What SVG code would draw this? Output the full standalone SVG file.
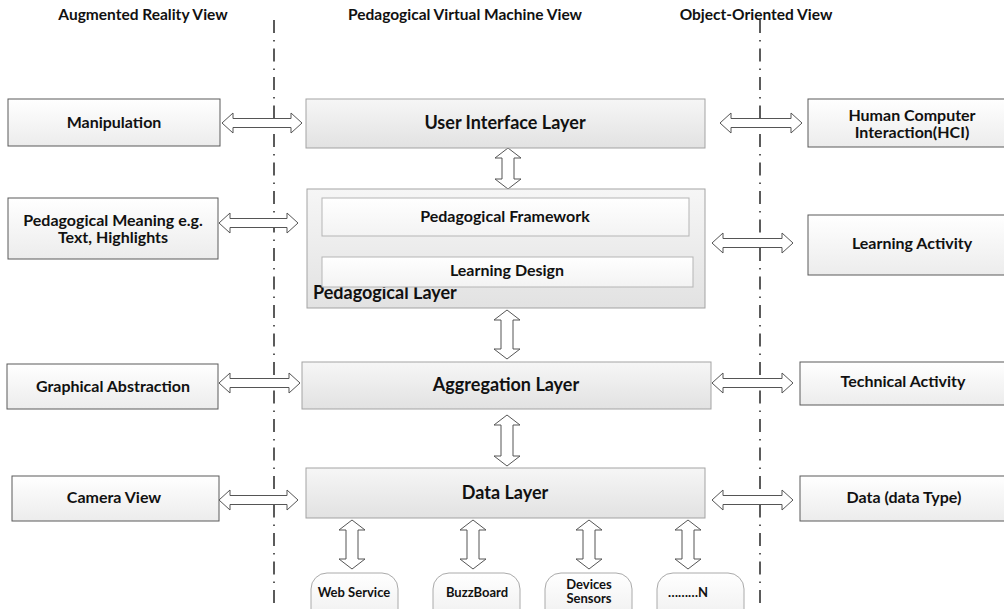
<svg xmlns="http://www.w3.org/2000/svg" width="1004" height="609" viewBox="0 0 1004 609">
<defs>
<linearGradient id="gLayer" x1="0" y1="0" x2="0" y2="1"><stop offset="0" stop-color="#f6f6f6"/><stop offset="1" stop-color="#e2e2e2"/></linearGradient>
<linearGradient id="gSide" x1="0" y1="0" x2="0" y2="1"><stop offset="0" stop-color="#ffffff"/><stop offset="1" stop-color="#ececec"/></linearGradient>
<linearGradient id="gInner" x1="0" y1="0" x2="0" y2="1"><stop offset="0" stop-color="#ffffff"/><stop offset="1" stop-color="#f3f3f3"/></linearGradient>
<style>
.t{font-family:Lato,"Open Sans","Liberation Sans",sans-serif;font-weight:bold;fill:#111;text-anchor:middle}
.h{font-size:15.5px}
.s{font-size:16px}
.l{font-size:18px}
.r{font-size:13px}
.layer{fill:url(#gLayer);stroke:#a3a3a3;stroke-width:1}
.side{fill:url(#gSide);stroke:#5a5a5a;stroke-width:1}
.inner{fill:url(#gInner);stroke:#b5b5b5;stroke-width:1}
.round{fill:url(#gSide);stroke:#aaaaaa;stroke-width:1}
.arr{fill:#ffffff;stroke:#555555;stroke-width:1}
.axis{stroke:#333333;stroke-width:1.6;stroke-dasharray:13 7 1.5 7;fill:none}
</style>
</defs>
<rect width="1004" height="609" fill="#ffffff"/>

<g id="headers">
<text class="t h" x="143" y="20">Augmented Reality View</text>
<text class="t h" x="465" y="20">Pedagogical Virtual Machine View</text>
<text class="t h" x="756" y="20">Object-Oriented View</text>
</g>

<g id="axes">
<line class="axis" x1="274" y1="20" x2="274" y2="609"/>
<line class="axis" x1="760" y1="20" x2="760" y2="609"/>
</g>

<g id="connectors">
<path class="arr" d="M222,123 L233,113 L233,118.5 L291,118.5 L291,113 L302,123 L291,133 L291,127.5 L233,127.5 L233,133 Z"/>
<path class="arr" d="M219,223 L230,213 L230,218.5 L287,218.5 L287,213 L298,223 L287,233 L287,227.5 L230,227.5 L230,233 Z"/>
<path class="arr" d="M219,383 L230,373 L230,378.5 L289,378.5 L289,373 L300,383 L289,393 L289,387.5 L230,387.5 L230,393 Z"/>
<path class="arr" d="M219,500 L230,490 L230,495.5 L287,495.5 L287,490 L298,500 L287,510 L287,504.5 L230,504.5 L230,510 Z"/>
<path class="arr" d="M720,123 L731,113 L731,118.5 L791,118.5 L791,113 L802,123 L791,133 L791,127.5 L731,127.5 L731,133 Z"/>
<path class="arr" d="M712,243 L723,233 L723,238.5 L782,238.5 L782,233 L793,243 L782,253 L782,247.5 L723,247.5 L723,253 Z"/>
<path class="arr" d="M712,383 L723,373 L723,378.5 L782,378.5 L782,373 L793,383 L782,393 L782,387.5 L723,387.5 L723,393 Z"/>
<path class="arr" d="M712,500 L723,490 L723,495.5 L782,495.5 L782,490 L793,500 L782,510 L782,504.5 L723,504.5 L723,510 Z"/>
<path class="arr" d="M508,148 L521,158 L514,158 L514,179 L521,179 L508,189 L495,179 L502,179 L502,158 L495,158 Z"/>
<path class="arr" d="M509,234 L521,241 L515,241 L515,246 L521,246 L509,253 L497,246 L503,246 L503,241 L497,241 Z"/>
<path class="arr" d="M507,310 L520,320 L513,320 L513,349 L520,349 L507,359 L494,349 L501,349 L501,320 L494,320 Z"/>
<path class="arr" d="M507,415 L520,425 L513,425 L513,456 L520,456 L507,466 L494,456 L501,456 L501,425 L494,425 Z"/>
<path class="arr" d="M352,520 L365,530 L358,530 L358,559 L365,559 L352,569 L339,559 L346,559 L346,530 L339,530 Z"/>
<path class="arr" d="M473,520 L486,530 L479,530 L479,559 L486,559 L473,569 L460,559 L467,559 L467,530 L460,530 Z"/>
<path class="arr" d="M589,520 L602,530 L595,530 L595,559 L602,559 L589,569 L576,559 L583,559 L583,530 L576,530 Z"/>
<path class="arr" d="M688,520 L701,530 L694,530 L694,559 L701,559 L688,569 L675,559 L682,559 L682,530 L675,530 Z"/>
</g>

<g id="node-manipulation">
<rect class="side" x="8" y="99" width="212" height="47"/>
<text class="t s" x="114" y="128">Manipulation</text>
</g>
<g id="node-pedagogical-meaning">
<rect class="side" x="8" y="198" width="210" height="61"/>
<text class="t s" x="113" y="226">Pedagogical Meaning e.g.</text>
<text class="t s" x="113" y="243">Text, Highlights</text>
</g>
<g id="node-graphical-abstraction">
<rect class="side" x="7" y="364" width="211" height="45"/>
<text class="t s" x="113" y="392">Graphical Abstraction</text>
</g>
<g id="node-camera-view">
<rect class="side" x="12" y="476" width="207" height="45"/>
<text class="t s" x="114" y="503">Camera View</text>
</g>

<g id="node-user-interface-layer">
<rect class="layer" x="306" y="99" width="399" height="49"/>
<text class="t l" x="505" y="129">User Interface Layer</text>
</g>
<g id="node-pedagogical-layer">
<rect class="layer" x="307" y="189" width="398" height="119"/>
<text class="t l" x="313" y="299" style="text-anchor:start">Pedagogical Layer</text>
</g>
<g id="node-pedagogical-framework">
<rect class="inner" x="322" y="198" width="367" height="38"/>
<text class="t s" x="505" y="222">Pedagogical Framework</text>
</g>
<g id="node-learning-design">
<rect class="inner" x="322" y="257" width="371" height="30"/>
<text class="t s" x="507" y="276">Learning Design</text>
</g>
<g id="node-aggregation-layer">
<rect class="layer" x="302" y="362" width="409" height="47"/>
<text class="t l" x="506" y="391">Aggregation Layer</text>
</g>
<g id="node-data-layer">
<rect class="layer" x="306" y="468" width="399" height="50"/>
<text class="t l" x="505" y="499">Data Layer</text>
</g>

<g id="node-hci">
<rect class="side" x="808" y="99" width="210" height="48"/>
<text class="t s" x="912" y="121">Human Computer</text>
<text class="t s" x="912" y="138">Interaction(HCI)</text>
</g>
<g id="node-learning-activity">
<rect class="side" x="808" y="215" width="210" height="60"/>
<text class="t s" x="912" y="249">Learning Activity</text>
</g>
<g id="node-technical-activity">
<rect class="side" x="800" y="362" width="210" height="43"/>
<text class="t s" x="903" y="387">Technical Activity</text>
</g>
<g id="node-data-type">
<rect class="side" x="800" y="476" width="210" height="45"/>
<text class="t s" x="904" y="503">Data (data Type)</text>
</g>

<g id="node-web-service">
<rect class="round" x="311" y="573" width="87" height="56" rx="16"/>
<text class="t r" x="354" y="597">Web Service</text>
</g>
<g id="node-buzzboard">
<rect class="round" x="433" y="573" width="87" height="56" rx="16"/>
<text class="t r" x="477" y="597">BuzzBoard</text>
</g>
<g id="node-devices-sensors">
<rect class="round" x="545" y="573" width="87" height="56" rx="16"/>
<text class="t r" x="589" y="589">Devices</text>
<text class="t r" x="589" y="603">Sensors</text>
</g>
<g id="node-n">
<rect class="round" x="657" y="573" width="87" height="56" rx="16"/>
<text class="t r" x="688" y="597">………N</text>
</g>
</svg>
